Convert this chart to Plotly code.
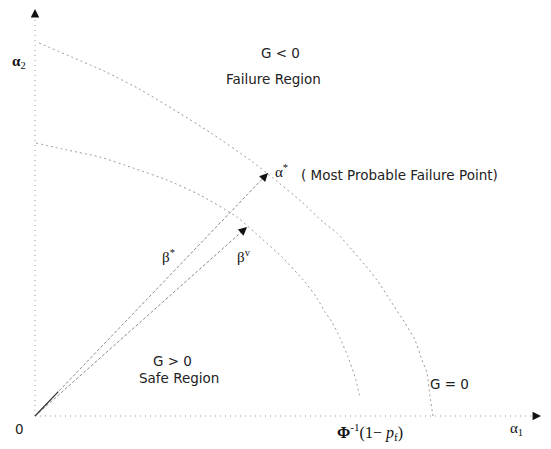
import plotly.graph_objects as go
import numpy as np

# ---- data (α1, α2 in diagram units) ----
outer_a1 = [4, 71, 106, 141, 176, 215, 238, 268, 288, 302, 317, 330, 342, 355, 370, 380, 387, 392, 395, 398]
outer_a2 = [373, 344, 326, 305, 283, 256, 238, 213, 194, 183, 166, 151, 136, 116, 93, 76, 56, 43, 19, 0]
inner_a1 = [1, 32, 65, 98, 132, 165, 202, 226, 247, 270, 282, 290, 297, 305, 313, 320, 325]
inner_a2 = [273, 266, 259, 248, 236, 221, 199, 178, 159, 134, 118, 104, 94, 78, 59, 39, 19]
beta_star_tip = [233, 243]
beta_v_tip = [212, 189]
x_axis_end = 506
y_axis_end = 407

curve_color = "#9a9a9a"
fig = go.Figure()

# axes (dotted)
fig.add_trace(go.Scatter(x=[0, x_axis_end - 6], y=[0, 0], mode="lines",
                         line=dict(color=curve_color, width=1, dash="1px,4px"),
                         cliponaxis=False, hoverinfo="skip"))
fig.add_trace(go.Scatter(x=[0, 0], y=[0, y_axis_end - 6], mode="lines",
                         line=dict(color=curve_color, width=1, dash="1px,4px"),
                         cliponaxis=False, hoverinfo="skip"))

# limit-state curves
fig.add_trace(go.Scatter(x=outer_a1, y=outer_a2, mode="lines",
                         line=dict(color=curve_color, width=1, dash="2px,3px", shape="spline", smoothing=0.5),
                         cliponaxis=False, hoverinfo="skip"))
fig.add_trace(go.Scatter(x=inner_a1, y=inner_a2, mode="lines",
                         line=dict(color=curve_color, width=1, dash="2px,3px", shape="spline", smoothing=0.5),
                         cliponaxis=False, hoverinfo="skip"))

# beta vectors
for tip in (beta_star_tip, beta_v_tip):
    fig.add_trace(go.Scatter(x=[0, tip[0]], y=[0, tip[1]], mode="lines",
                             line=dict(color="#8a8a8a", width=1, dash="3px,2px"),
                             cliponaxis=False, hoverinfo="skip"))
# dark start of beta* vector
fig.add_trace(go.Scatter(x=[0, beta_star_tip[0] * 0.1], y=[0, beta_star_tip[1] * 0.1], mode="lines",
                         line=dict(color="#333", width=1.2), cliponaxis=False, hoverinfo="skip"))

def head(tip, length=9):
    t = np.array(tip, dtype=float)
    d = t / np.linalg.norm(t)
    s = t - d * length
    return dict(x=t[0], y=t[1], ax=s[0], ay=s[1], xref="x", yref="y", axref="x", ayref="y",
                showarrow=True, arrowhead=2, arrowsize=1.3, arrowwidth=1.3, arrowcolor="#111",
                standoff=0, text="")

annotations = [
    head(beta_star_tip), head(beta_v_tip),
    dict(x=x_axis_end, y=0, ax=x_axis_end - 8, ay=0, xref="x", yref="y", axref="x", ayref="y",
         showarrow=True, arrowhead=2, arrowsize=1.3, arrowwidth=1.3, arrowcolor="#111", standoff=0, text=""),
    dict(x=0, y=y_axis_end, ax=0, ay=y_axis_end - 8, xref="x", yref="y", axref="x", ayref="y",
         showarrow=True, arrowhead=2, arrowsize=1.3, arrowwidth=1.3, arrowcolor="#111", standoff=0, text=""),
]

sans = dict(family="DejaVu Sans, Liberation Sans, sans-serif", size=13.5, color="#222")
serif = dict(family="Liberation Serif, Times New Roman, serif", size=15, color="#111")

def label(x, y, text, font, xanchor="center"):
    return dict(x=x, y=y, xref="x", yref="y", text=text, showarrow=False,
                font=font, xanchor=xanchor, yanchor="middle")

annotations += [
    label(-16, 354, "<b>α</b><sub>2</sub>", serif),
    label(481, -13, "α<sub>1</sub>", serif),
    label(-16, -13, "0", sans),
    label(335, -16, "<b>Φ</b><sup>-1</sup>(1− <i>p</i><sub>f</sub>)", dict(serif, size=16)),
    label(245, 363, "G &lt; 0", sans),
    label(238, 337, "Failure Region", sans),
    label(238, 245, "α<sup>*</sup>", serif, "left"),
    label(264, 241, "( Most Probable Failure Point)", sans, "left"),
    label(133, 160, "β<sup>*</sup>", serif),
    label(209, 160, "β<sup>v</sup>", serif),
    label(137, 55, "G &gt; 0", sans),
    label(144, 38, "Safe Region", sans),
    label(414, 32, "G = 0", sans),
]

# page body has an 8px margin: figure sized to fit, ranges mapped 1 unit = 1 px
fig.update_layout(
    width=543, height=441,
    margin=dict(l=0, r=0, t=0, b=0),
    paper_bgcolor="white", plot_bgcolor="white",
    showlegend=False,
    xaxis=dict(range=[-27, 516], visible=False, fixedrange=True),
    yaxis=dict(range=[-33, 408], visible=False, fixedrange=True),
    annotations=annotations,
)

fig.write_html("out.html")
